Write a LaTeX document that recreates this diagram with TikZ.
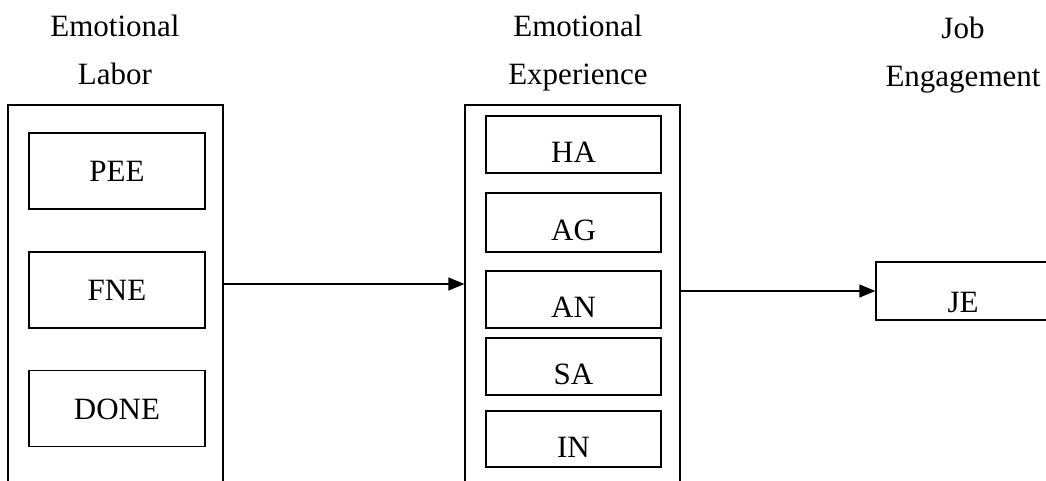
\documentclass[tikz,border=0pt]{standalone}
\usepackage{fontspec}
\setmainfont{Liberation Serif}
\usetikzlibrary{arrows.meta}

\begin{document}
\begin{tikzpicture}[x=1pt,y=-1pt,line width=1.3pt,
    every node/.style={font=\fontsize{31}{48}\selectfont},
    outer/.style={draw,minimum width=215pt,minimum height=400pt,inner sep=0pt},
    itemL/.style={draw,minimum width=176pt,minimum height=76pt,inner sep=0pt,text height=21pt,text depth=0pt},
    itemM/.style={draw,minimum width=175pt,inner sep=0pt,text height=36pt,text depth=0pt},
    arr/.style={-{Triangle[length=16pt,width=13pt]}}]
    \useasboundingbox (0,0) rectangle (1046,480);
    \clip (0,0) rectangle (1046,480);

    % headings
    \node[align=center] (hlab) at (115,50) {Emotional\\Labor};
    \node[align=center] (hexp) at (578,53) {Emotional\\Experience};
    \node[align=center] (hjob) at (963,55) {Job\\Engagement};

    % emotional labor
    \node[outer] (labor) at (115.5,305) {};
    \node[itemL] (pee) at (117,171) {PEE};
    \node[itemL] (fne) at (117,290) {FNE};
    \node[itemL] (done) at (117,408.5) {DONE};

    % emotional experience
    \node[outer] (exper) at (572.5,305) {};
    \node[itemM,minimum height=57pt] (ha) at (573.5,144.5) {HA};
    \node[itemM,minimum height=59pt] (ag) at (573.5,222.5) {AG};
    \node[itemM,minimum height=57pt] (an) at (573.5,299.5) {AN};
    \node[itemM,minimum height=57pt] (sa) at (573.5,366.5) {SA};
    \node[itemM,minimum height=56pt] (inn) at (573.5,439) {IN};

    % job engagement
    \node[draw,minimum width=174pt,minimum height=58pt,inner sep=0pt,text height=42pt,text depth=0pt] (je) at (963,291) {JE};

    \draw[arr] (labor.east |- 0,284) -- (exper.west |- 0,284);
    \draw[arr] (exper.east |- je.west) -- (je.west);
\end{tikzpicture}
\end{document}
